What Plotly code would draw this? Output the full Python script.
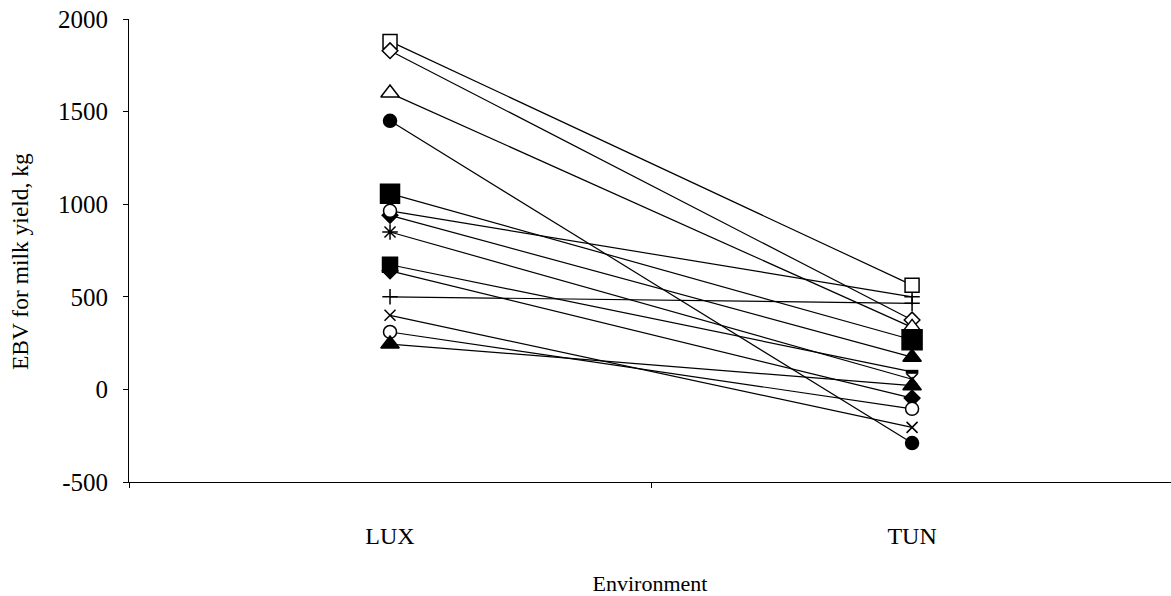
import plotly.graph_objects as go

# Environments on the category axis
environments = ["LUX", "TUN"]

# Estimated breeding values (kg milk) of each sire in the two environments
lux_ebv = [940, 964, 1879, 1829, 1600, 1450, 1057, 850, 673, 640, 500, 400, 310, 245]
tun_ebv = [174, 500, 563, 375, 335, -290, 268, 55, 95, -47, 465, -205, -105, 20]

y_ticks = [-500, 0, 500, 1000, 1500, 2000]
y_tick_labels = ["-500", "0", "500", "1000", "1500", "2000"]

# Marker style per sire: (symbol in LUX, symbol in TUN), fill, size
styles = [
    (("diamond", "triangle-up"), "black", (12, 16)),
    (("circle", "cross-thin"), "white", (13, 11)),
    (("square", "square"), "white", (14, 14)),
    (("diamond", "diamond"), "white", (12, 12)),
    (("triangle-up", "triangle-up"), "white", (16, 16)),
    (("circle", "circle"), "black", (13, 13)),
    (("square", "square"), "black", (19, 20)),
    (("asterisk", "x-thin"), "black", (13, 11)),
    (("square", "line-ew"), "black", (15, 9)),
    (("diamond", "diamond"), "black", (12, 12)),
    (("cross-thin", "cross-thin"), "black", (11, 11)),
    (("x-thin", "x-thin"), "black", (11, 11)),
    (("circle", "circle"), "white", (13, 13)),
    (("triangle-up", "triangle-up"), "black", (16, 16)),
]

fig = go.Figure()
for lux, tun, (symbols, fill, sizes) in zip(lux_ebv, tun_ebv, styles):
    widths = [4 if s == "line-ew" else 1.5 for s in symbols]
    fig.add_trace(go.Scatter(
        x=environments,
        y=[lux, tun],
        mode="lines+markers",
        opacity=1,
        line=dict(color="#000000", width=1.2),
        marker=dict(
            symbol=list(symbols),
            size=list(sizes),
            color=fill,
            opacity=1,
            line=dict(color="#000000", width=widths),
        ),
        cliponaxis=False,
        hoverinfo="x+y",
    ))

serif = "Liberation Serif, Times New Roman, serif"

fig.update_layout(
    width=1171,
    height=596,
    margin=dict(l=129, r=0, t=19, b=114),
    paper_bgcolor="white",
    plot_bgcolor="white",
    showlegend=False,
    font=dict(family=serif, size=24, color="black"),
    xaxis=dict(
        type="category",
        categoryorder="array",
        categoryarray=environments,
        range=[-0.5, 1.496],
        tickson="boundaries",
        ticks="outside",
        ticklen=5,
        tickcolor="black",
        showline=True,
        linecolor="black",
        linewidth=1,
        showgrid=False,
        zeroline=False,
        ticklabelstandoff=32,
        tickfont=dict(family=serif, size=24),
        title=dict(text="Environment", standoff=32, font=dict(family=serif, size=22)),
    ),
    yaxis=dict(
        range=[-500, 2000],
        tickvals=y_ticks,
        ticktext=y_tick_labels,
        ticks="outside",
        ticklen=5,
        tickcolor="black",
        showline=True,
        linecolor="black",
        linewidth=1,
        showgrid=False,
        zeroline=False,
        ticklabelstandoff=10,
        tickfont=dict(family=serif, size=25),
    ),
    annotations=[dict(
        text="EBV for milk yield, kg",
        xref="paper", yref="paper",
        x=-0.1046, y=0.475,
        xanchor="center", yanchor="middle",
        textangle=-90,
        showarrow=False,
        font=dict(family=serif, size=23.5, color="black"),
    )],
)

fig.write_html("out.html")
